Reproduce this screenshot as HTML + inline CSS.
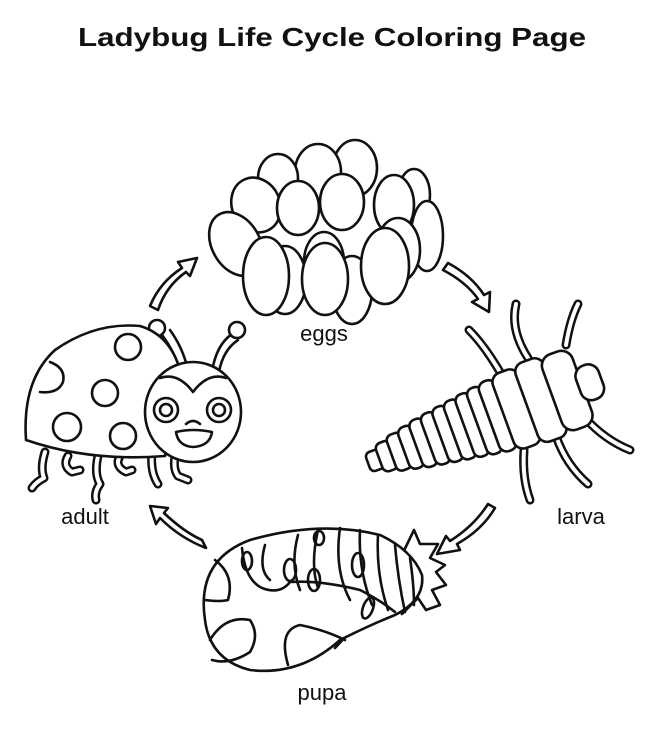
<!DOCTYPE html>
<html><head><meta charset="utf-8"><style>
html,body{margin:0;padding:0;background:#fff;}
svg{display:block}
text{font-family:"Liberation Sans",sans-serif;fill:#111}
</style></head><body>
<svg width="649" height="729" viewBox="0 0 649 729" xmlns="http://www.w3.org/2000/svg">
<rect width="649" height="729" fill="#fff"/>
<text x="78" y="46" font-size="26" font-weight="bold" textLength="508" lengthAdjust="spacingAndGlyphs">Ladybug Life Cycle Coloring Page</text>
<text x="324" y="341" font-size="22" text-anchor="middle">eggs</text>
<text x="85" y="524" font-size="22" text-anchor="middle">adult</text>
<text x="581" y="524" font-size="22" text-anchor="middle">larva</text>
<text x="322" y="700" font-size="22" text-anchor="middle">pupa</text>

<g fill="#fff" stroke="#111" stroke-width="2.6" stroke-linejoin="round" stroke-linecap="round">
<ellipse cx="355" cy="168" rx="22" ry="28"/>
<ellipse cx="318" cy="172" rx="23" ry="28"/>
<ellipse cx="278" cy="178" rx="20" ry="24"/>
<ellipse cx="414" cy="195" rx="16" ry="26"/>
<ellipse cx="427" cy="236" rx="16" ry="35"/>
<ellipse cx="256" cy="205" rx="24" ry="28" transform="rotate(-25 256 205)"/>
<ellipse cx="298" cy="208" rx="21" ry="27"/>
<ellipse cx="342" cy="202" rx="22" ry="28"/>
<ellipse cx="394" cy="205" rx="20" ry="30"/>
<ellipse cx="236" cy="244" rx="24" ry="34" transform="rotate(-30 236 244)"/>
<ellipse cx="285" cy="280" rx="21" ry="34"/>
<ellipse cx="324" cy="262" rx="20" ry="30"/>
<ellipse cx="398" cy="250" rx="22" ry="32"/>
<ellipse cx="352" cy="290" rx="20" ry="34"/>
<ellipse cx="266" cy="276" rx="23" ry="39"/>
<ellipse cx="325" cy="279" rx="23" ry="36"/>
<ellipse cx="385" cy="266" rx="24" ry="38"/>

<path d="M150 306 Q160 282 182 268 L178 262 L197 258 L190 276 L186 272 Q166 286 158 310 Z"/>
<path d="M448 263 Q472 276 484 295 L490 292 L489 312 L472 302 L478 299 Q466 282 443 270 Z"/>
<path d="M495 508 Q482 530 457 544 L460 550 L437 554 L446 536 L450 541 Q474 526 488 504 Z"/>
<path d="M206 548 Q180 538 160 518 L156 524 L150 506 L168 508 L164 513 Q184 532 202 540 Z"/>
</g>

<g fill="none" stroke-linecap="round" stroke-linejoin="round">
<g stroke="#111" stroke-width="9">
<path d="M45 452 Q40 468 44 478 Q36 482 32 488"/>
<path d="M68 456 Q62 466 72 472 L80 470"/>
<path d="M98 456 Q94 474 100 484 Q94 492 96 500"/>
<path d="M120 456 Q114 466 126 472 L132 470"/>
<path d="M152 452 Q150 472 158 484"/>
<path d="M176 452 Q172 468 178 476 L188 480"/>
<path d="M500 372 Q484 345 469 330"/>
<path d="M528 358 Q510 330 516 304"/>
<path d="M566 345 Q570 320 578 304"/>
<path d="M585 418 Q605 440 630 450"/>
<path d="M556 436 Q566 465 588 484"/>
<path d="M524 450 Q522 478 530 500"/>
</g>
<g stroke="#fff" stroke-width="4">
<path d="M45 452 Q40 468 44 478 Q36 482 32 488"/>
<path d="M68 456 Q62 466 72 472 L80 470"/>
<path d="M98 456 Q94 474 100 484 Q94 492 96 500"/>
<path d="M120 456 Q114 466 126 472 L132 470"/>
<path d="M152 452 Q150 472 158 484"/>
<path d="M176 452 Q172 468 178 476 L188 480"/>
<path d="M500 372 Q484 345 469 330"/>
<path d="M528 358 Q510 330 516 304"/>
<path d="M566 345 Q570 320 578 304"/>
<path d="M585 418 Q605 440 630 450"/>
<path d="M556 436 Q566 465 588 484"/>
<path d="M524 450 Q522 478 530 500"/>
</g>
</g>

<g fill="#fff" stroke="#111" stroke-width="2.6" stroke-linejoin="round" stroke-linecap="round">
<path d="M162 335 Q175 352 180 372" fill="none"/>
<path d="M170 330 Q183 348 188 370" fill="none"/>
<circle cx="157" cy="328" r="8"/>
<path d="M212 372 Q216 345 232 334" fill="none"/>
<path d="M219 372 Q223 350 238 340" fill="none"/>
<circle cx="237" cy="330" r="8"/>
<path d="M26 440 Q22 380 55 350 Q95 322 140 326 Q170 335 180 370 L165 456 Q90 462 26 440 Z"/>
<circle cx="128" cy="347" r="13" fill="none"/>
<path d="M50 362 Q66 368 63 382 Q58 394 40 392" fill="none"/>
<circle cx="105" cy="393" r="13" fill="none"/>
<circle cx="67" cy="427" r="14" fill="none"/>
<circle cx="123" cy="436" r="13" fill="none"/>
<ellipse cx="193" cy="412" rx="48" ry="50"/>
<path d="M160 378 Q178 372 193 392 Q208 372 226 378" fill="none"/>
<circle cx="166" cy="410" r="12" fill="none"/><circle cx="166" cy="410" r="6" fill="none"/>
<circle cx="219" cy="410" r="12" fill="none"/><circle cx="219" cy="410" r="6" fill="none"/>
<path d="M186 424 Q193 418 200 424" fill="none"/>
<path d="M176 432 Q193 428 212 432 Q210 446 193 447 Q178 446 176 432 Z"/>

<!-- larva body -->
<g transform="translate(368,463) rotate(-20)">
<rect x="0" y="-10" width="16" height="20" rx="5"/>
<rect x="12" y="-15" width="16" height="30" rx="6"/>
<rect x="25" y="-19" width="16" height="38" rx="6"/>
<rect x="38" y="-22" width="16" height="44" rx="7"/>
<rect x="51" y="-25" width="16" height="50" rx="7"/>
<rect x="64" y="-27" width="16" height="54" rx="7"/>
<rect x="77" y="-29" width="16" height="58" rx="7"/>
<rect x="90" y="-31" width="16" height="62" rx="7"/>
<rect x="103" y="-33" width="16" height="66" rx="7"/>
<rect x="116" y="-35" width="16" height="70" rx="7"/>
<rect x="129" y="-37" width="18" height="74" rx="8"/>
<rect x="144" y="-40" width="28" height="80" rx="10"/>
<rect x="169" y="-42" width="30" height="84" rx="10"/>
<rect x="196" y="-40" width="32" height="80" rx="12"/>
<rect x="224" y="-18" width="24" height="36" rx="11"/>
</g>

<!-- pupa -->
<path d="M335 648 L350 630 L342 622 L360 620 L365 604 L380 612 L395 600 L402 614 L418 598 L426 610 L440 605 L432 590 L446 585 L436 572 L445 565 L430 558 L438 544 L420 544 L414 530 L380 600 Z"/>
<path d="M205 620 Q196 560 250 540 Q320 520 380 535 Q412 550 422 575 Q425 600 395 615 Q370 625 340 640 Q300 676 250 670 Q210 660 205 620 Z"/>
<path d="M215 560 Q235 575 228 600 Q220 602 205 600" fill="none"/>
<path d="M210 640 Q225 615 250 620 Q260 635 250 652 Q230 665 212 660" fill="none"/>
<path d="M288 665 Q278 630 300 625 Q325 630 345 640" fill="none"/>
<path d="M242 548 Q245 580 262 588 Q280 595 290 582 Q320 580 360 590 Q380 600 395 612" fill="none"/>
<path d="M265 545 Q258 570 270 580 M298 535 Q290 565 300 590 M318 530 Q310 565 318 588 M340 528 Q334 570 350 600 M360 530 Q358 570 372 605 M378 535 Q376 575 388 610 M395 545 Q398 580 405 612 M410 558 Q414 585 414 605" fill="none"/>
<ellipse cx="247" cy="561" rx="5" ry="9" fill="none"/>
<ellipse cx="290" cy="570" rx="6" ry="11" fill="none"/>
<ellipse cx="319" cy="538" rx="5" ry="7" fill="none"/>
<ellipse cx="314" cy="580" rx="6" ry="11" fill="none"/>
<ellipse cx="358" cy="565" rx="6" ry="12" fill="none"/>
<ellipse cx="368" cy="608" rx="5" ry="11" transform="rotate(20 368 608)" fill="none"/>
</g>
</svg>
</body></html>
